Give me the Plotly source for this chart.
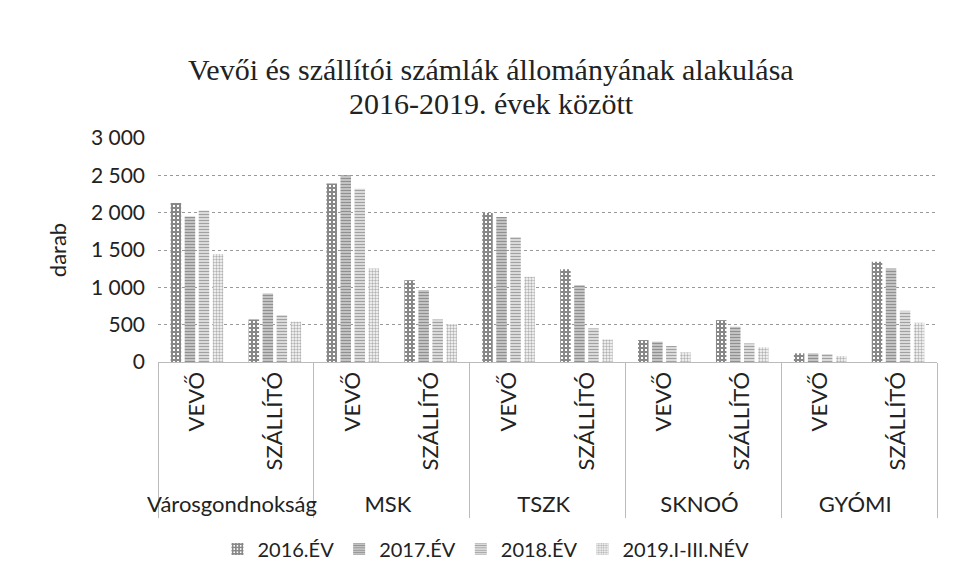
import plotly.graph_objects as go

groups = ["Városgondnokság", "MSK", "TSZK", "SKNOÓ", "GYÓMI"]
subs = ["VEVŐ", "SZÁLLÍTÓ"]
series_names = ["2016.ÉV", "2017.ÉV", "2018.ÉV", "2019.I-III.NÉV"]

# values per series, order: group x (VEVŐ, SZÁLLÍTÓ)
v2016 = [2130, 570, 2390, 1096, 1996, 1243, 294, 561, 116, 1341]
v2017 = [1950, 918, 2500, 963, 1943, 1029, 272, 472, 116, 1253]
v2018 = [2030, 628, 2320, 570, 1675, 450, 214, 249, 107, 686]
v2019 = [1445, 540, 1253, 508, 1141, 303, 129, 196, 80, 526]

y_ticks = [0, 500, 1000, 1500, 2000, 2500, 3000]
y_ticktext = ["0", "500", "1 000", "1 500", "2 000", "2 500", "3 000"]

title_line1 = "Vevői és szállítói számlák állományának alakulása"
title_line2 = "2016-2019. évek között"

xg = [g for g in groups for s in subs]
xs = [s for g in groups for s in subs]

styles = [
    dict(shape="+", fg="#111111", bg="#ffffff", size=4, solidity=0.75),
    dict(shape="-", fg="#222222", bg="#ffffff", size=3, solidity=0.7),
    dict(shape="-", fg="#444444", bg="#ffffff", size=3, solidity=0.6),
    dict(shape=".", fg="#666666", bg="#ffffff", size=3, solidity=0.5),
]

FONT = "Lato"

fig = go.Figure()
for name, vals, st in zip(series_names, [v2016, v2017, v2018, v2019], styles):
    fig.add_trace(go.Bar(
        name=name, x=[xg, xs], y=vals,
        marker=dict(color=st["bg"], line=dict(width=0),
                    pattern=dict(shape=st["shape"], fgcolor=st["fg"], bgcolor=st["bg"],
                                 size=st["size"], solidity=st["solidity"], fillmode="overlay")),
    ))

fig.update_layout(
    width=953, height=588,
    paper_bgcolor="white", plot_bgcolor="white",
    margin=dict(l=150, r=24, t=130, b=234),
    barmode="group", bargap=0.28, bargroupgap=0.25,
    font=dict(family=FONT, size=20, color="#222222"),
    showlegend=True,
    legend=dict(orientation="h", x=0.421, xanchor="center", y=-0.835, yanchor="middle",
                font=dict(size=20), traceorder="normal", itemwidth=30),
    yaxis=dict(range=[0, 3000], tickvals=y_ticks, ticktext=y_ticktext,
               showgrid=True, gridcolor="#999999", griddash="dot", gridwidth=1,
               zeroline=False, tickfont=dict(size=21), automargin=False, ticklabelstandoff=12,
               title=dict(text="darab", font=dict(size=22), standoff=18)),
    xaxis=dict(type="multicategory", tickangle=-90, tickfont=dict(size=22),
               showline=True, linecolor="#bbbbbb", linewidth=1, automargin=False,
               showdividers=True, dividercolor="#bbbbbb", dividerwidth=1),
    annotations=[
        dict(text=title_line1, xref="paper", yref="paper", x=0.4275, y=1.3036,
             xanchor="center", yanchor="middle", showarrow=False,
             font=dict(family="Liberation Serif", size=30, color="#222222")),
        dict(text=title_line2, xref="paper", yref="paper", x=0.4275, y=1.1518,
             xanchor="center", yanchor="middle", showarrow=False,
             font=dict(family="Liberation Serif", size=30, color="#222222")),
    ],
)

fig.write_html("out.html")
